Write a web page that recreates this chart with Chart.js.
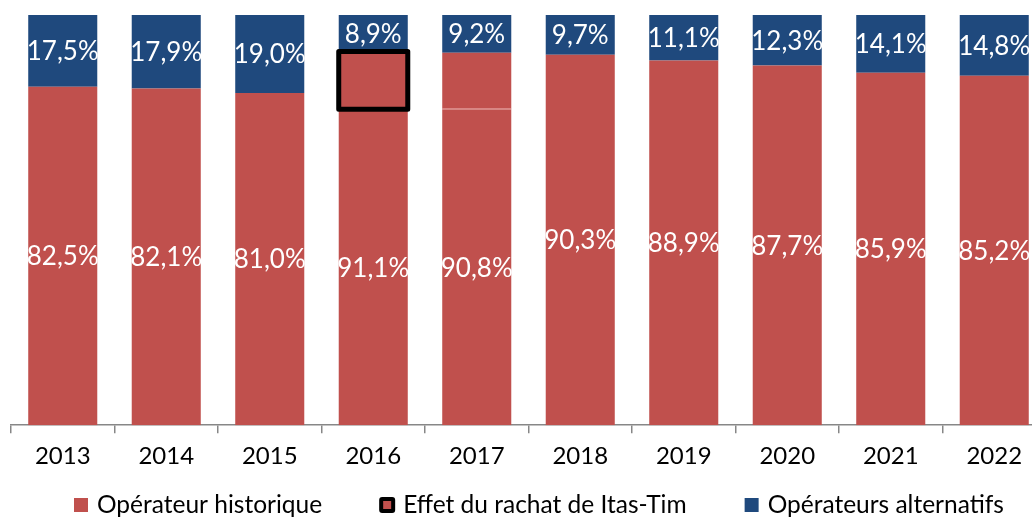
<!DOCTYPE html>
<html><head><meta charset="utf-8">
<script src="https://cdn.jsdelivr.net/npm/chart.js@4.4.1/dist/chart.umd.min.js"></script>
<style>html,body{margin:0;padding:0;overflow:hidden;background:#fff}</style>
</head><body>
<canvas id="c" width="1046" height="518"></canvas>
<script>
const years = ['2013','2014','2015','2016','2017','2018','2019','2020','2021','2022'];
const historiqueTotal = [82.5, 82.1, 81.0, 91.1, 90.8, 90.3, 88.9, 87.7, 85.9, 85.2];
const rachatEffect = [0, 0, 0, 14.1, 13.8, 0, 0, 0, 0, 0];
const alternatifs = [17.5, 17.9, 19.0, 8.9, 9.2, 9.7, 11.1, 12.3, 14.1, 14.8];
const seriesNames = ['Opérateur historique', 'Effet du rachat de Itas-Tim', 'Opérateurs alternatifs'];
const historiqueBase = historiqueTotal.map((v, i) => +(v - rachatEffect[i]).toFixed(1));

const RED = '#C0504D', BLUE = '#1F497D';
const fmt = v => v.toFixed(1).replace('.', ',') + '%';
const FONT = 'Lato, "Open Sans", sans-serif';

const labelPlugin = {
  id: 'labels',
  afterDatasetsDraw(chart) {
    const ctx = chart.ctx;
    ctx.save();
    const effMeta = chart.getDatasetMeta(1);
    effMeta.data.forEach((el, i) => {
      if (i === 3 && rachatEffect[i] > 0) {
        const p = el.getProps(['x','y','base','width'], true);
        ctx.strokeStyle = '#000'; ctx.lineWidth = 5; ctx.lineJoin = 'round';
        ctx.strokeRect(p.x - p.width/2, p.y, p.width, p.base - p.y);
      } else if (rachatEffect[i] > 0) {
        const p = el.getProps(['x','y','base','width'], true);
        ctx.strokeStyle = 'rgba(255,220,220,0.6)'; ctx.lineWidth = 1;
        ctx.beginPath(); ctx.moveTo(p.x - p.width/2, p.base - 0.5); ctx.lineTo(p.x + p.width/2, p.base - 0.5); ctx.stroke();
      }
    });
    ctx.fillStyle = '#fff';
    ctx.font = '26px ' + FONT;
    ctx.textAlign = 'center'; ctx.textBaseline = 'middle';
    chart.getDatasetMeta(0).data.forEach((el, i) => {
      const p = el.getProps(['x','y','base'], true);
      ctx.fillText(fmt(historiqueTotal[i]), p.x, (p.y + p.base)/2 + 1);
    });
    chart.getDatasetMeta(2).data.forEach((el, i) => {
      const p = el.getProps(['x','y','base'], true);
      ctx.fillText(fmt(alternatifs[i]), p.x, (p.y + p.base)/2 + 1);
    });
    ctx.restore();
  },
  afterDraw(chart) {
    const ctx = chart.ctx;
    ctx.save();
    ctx.font = '24.5px ' + FONT;
    ctx.textBaseline = 'middle'; ctx.textAlign = 'left';
    const y = 505, box = 14, gapText = 9, gapItem = 58;
    let x = 74;
    seriesNames.forEach((name, k) => {
      if (k === 1) {
        ctx.fillStyle = '#000';
        ctx.beginPath(); ctx.roundRect(x - 1, y - box/2 - 1, box + 2, box + 2, 3); ctx.fill();
        ctx.fillStyle = RED; ctx.fillRect(x + 3, y - box/2 + 3, box - 6, box - 6);
      } else {
        ctx.fillStyle = k === 0 ? RED : BLUE;
        ctx.fillRect(x, y - box/2, box, box);
      }
      ctx.fillStyle = '#000';
      ctx.fillText(name, x + box + gapText, y);
      x += box + gapText + ctx.measureText(name).width + gapItem;
    });
    ctx.restore();
  }
};

new Chart(document.getElementById('c'), {
  type: 'bar',
  data: {
    labels: years,
    datasets: [
      { label: seriesNames[0], data: historiqueBase, backgroundColor: RED, borderWidth: 0 },
      { label: seriesNames[1], data: rachatEffect, backgroundColor: RED, borderWidth: 0 },
      { label: seriesNames[2], data: alternatifs, backgroundColor: BLUE, borderWidth: 0 }
    ]
  },
  options: {
    responsive: false,
    animation: false,
    layout: { padding: { left: 11, right: 0, top: 15, bottom: 38 } },
    datasets: { bar: { categoryPercentage: 1, barPercentage: 0.667 } },
    plugins: { legend: { display: false }, tooltip: { enabled: false } },
    scales: {
      x: {
        stacked: true,
        grid: { offset: true, drawOnChartArea: false, drawTicks: true, tickLength: 8, color: '#878787', lineWidth: 1.5 },
        border: { display: true, color: '#878787', width: 1.5 },
        ticks: { color: '#000', font: { family: FONT, size: 24 }, padding: 9, maxRotation: 0 }
      },
      y: { stacked: true, display: false, min: 0, max: 100 }
    }
  },
  plugins: [labelPlugin]
});
</script>
</body></html>
